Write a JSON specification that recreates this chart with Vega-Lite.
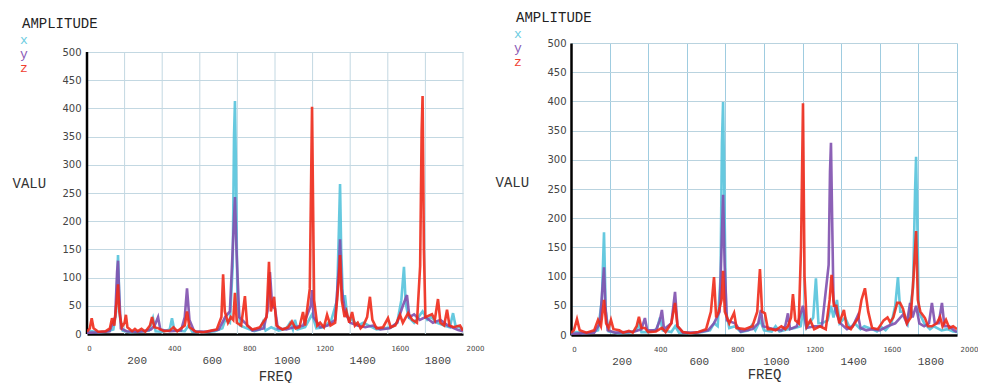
{
"$schema": "https://vega.github.io/schema/vega-lite/v6.json",
"background": "white",
"padding": {"left": 12, "top": 11, "right": 0, "bottom": 0},
"spacing": 11,
"config": {"view": {"stroke": null}, "font": "DejaVu Sans"},
"resolve": {"scale": {"color": "independent"}, "legend": {"color": "independent"}},
"datasets": {
"G": [{"f":0,"v":0,"hi":500},{"f":200,"v":0,"hi":500},{"f":400,"v":0,"hi":500},{"f":600,"v":0,"hi":500},{"f":800,"v":0,"hi":500},{"f":1000,"v":0,"hi":500},{"f":1200,"v":0,"hi":500},{"f":1400,"v":0,"hi":500},{"f":1600,"v":0,"hi":500},{"f":1800,"v":0,"hi":500},{"f":2000,"v":0,"hi":500}],
"A": [
{"s":"x","f":0,"v":3},{"s":"x","f":20,"v":5},{"s":"x","f":60,"v":3},{"s":"x","f":100,"v":4},{"s":"x","f":140,"v":8},{"s":"x","f":155,"v":40},{"s":"x","f":165,"v":140},{"s":"x","f":175,"v":30},{"s":"x","f":190,"v":6},{"s":"x","f":230,"v":3},{"s":"x","f":280,"v":4},{"s":"x","f":330,"v":6},{"s":"x","f":351,"v":28},{"s":"x","f":365,"v":5},{"s":"x","f":400,"v":4},{"s":"x","f":440,"v":8},{"s":"x","f":452,"v":28},{"s":"x","f":465,"v":6},{"s":"x","f":520,"v":5},{"s":"x","f":540,"v":15},{"s":"x","f":560,"v":4},{"s":"x","f":620,"v":3},{"s":"x","f":680,"v":5},{"s":"x","f":720,"v":10},{"s":"x","f":735,"v":25},{"s":"x","f":760,"v":20},{"s":"x","f":775,"v":120},{"s":"x","f":782,"v":350},{"s":"x","f":787,"v":413},{"s":"x","f":792,"v":300},{"s":"x","f":800,"v":60},{"s":"x","f":815,"v":15},{"s":"x","f":850,"v":10},{"s":"x","f":890,"v":5},{"s":"x","f":920,"v":8},{"s":"x","f":936,"v":21},{"s":"x","f":950,"v":6},{"s":"x","f":980,"v":12},{"s":"x","f":1020,"v":6},{"s":"x","f":1060,"v":10},{"s":"x","f":1080,"v":20},{"s":"x","f":1095,"v":8},{"s":"x","f":1106,"v":25},{"s":"x","f":1120,"v":8},{"s":"x","f":1160,"v":12},{"s":"x","f":1197,"v":35},{"s":"x","f":1220,"v":10},{"s":"x","f":1260,"v":12},{"s":"x","f":1300,"v":25},{"s":"x","f":1330,"v":60},{"s":"x","f":1341,"v":200},{"s":"x","f":1346,"v":266},{"s":"x","f":1352,"v":150},{"s":"x","f":1362,"v":55},{"s":"x","f":1372,"v":69},{"s":"x","f":1385,"v":30},{"s":"x","f":1410,"v":25},{"s":"x","f":1440,"v":15},{"s":"x","f":1470,"v":20},{"s":"x","f":1500,"v":15},{"s":"x","f":1540,"v":8},{"s":"x","f":1580,"v":10},{"s":"x","f":1620,"v":12},{"s":"x","f":1650,"v":20},{"s":"x","f":1672,"v":60},{"s":"x","f":1686,"v":119},{"s":"x","f":1695,"v":55},{"s":"x","f":1710,"v":30},{"s":"x","f":1740,"v":20},{"s":"x","f":1785,"v":40},{"s":"x","f":1810,"v":25},{"s":"x","f":1830,"v":30},{"s":"x","f":1860,"v":20},{"s":"x","f":1900,"v":15},{"s":"x","f":1930,"v":12},{"s":"x","f":1947,"v":37},{"s":"x","f":1960,"v":15},{"s":"x","f":1980,"v":12},{"s":"x","f":2000,"v":8},
{"s":"y","f":0,"v":2},{"s":"y","f":60,"v":3},{"s":"y","f":120,"v":5},{"s":"y","f":150,"v":30},{"s":"y","f":160,"v":110},{"s":"y","f":165,"v":130},{"s":"y","f":170,"v":80},{"s":"y","f":180,"v":10},{"s":"y","f":210,"v":5},{"s":"y","f":260,"v":4},{"s":"y","f":300,"v":5},{"s":"y","f":340,"v":8},{"s":"y","f":360,"v":15},{"s":"y","f":378,"v":30},{"s":"y","f":390,"v":8},{"s":"y","f":440,"v":5},{"s":"y","f":500,"v":6},{"s":"y","f":520,"v":30},{"s":"y","f":532,"v":81},{"s":"y","f":545,"v":25},{"s":"y","f":570,"v":5},{"s":"y","f":640,"v":4},{"s":"y","f":700,"v":8},{"s":"y","f":735,"v":30},{"s":"y","f":760,"v":40},{"s":"y","f":775,"v":150},{"s":"y","f":787,"v":243},{"s":"y","f":795,"v":150},{"s":"y","f":810,"v":30},{"s":"y","f":840,"v":20},{"s":"y","f":880,"v":6},{"s":"y","f":940,"v":10},{"s":"y","f":960,"v":40},{"s":"y","f":973,"v":110},{"s":"y","f":985,"v":50},{"s":"y","f":1000,"v":45},{"s":"y","f":1015,"v":10},{"s":"y","f":1060,"v":8},{"s":"y","f":1100,"v":12},{"s":"y","f":1150,"v":15},{"s":"y","f":1190,"v":50},{"s":"y","f":1197,"v":78},{"s":"y","f":1205,"v":30},{"s":"y","f":1240,"v":12},{"s":"y","f":1280,"v":15},{"s":"y","f":1320,"v":25},{"s":"y","f":1340,"v":120},{"s":"y","f":1346,"v":168},{"s":"y","f":1355,"v":80},{"s":"y","f":1372,"v":40},{"s":"y","f":1400,"v":20},{"s":"y","f":1440,"v":15},{"s":"y","f":1480,"v":12},{"s":"y","f":1520,"v":15},{"s":"y","f":1560,"v":8},{"s":"y","f":1610,"v":10},{"s":"y","f":1650,"v":20},{"s":"y","f":1680,"v":50},{"s":"y","f":1702,"v":69},{"s":"y","f":1715,"v":30},{"s":"y","f":1740,"v":35},{"s":"y","f":1770,"v":25},{"s":"y","f":1800,"v":30},{"s":"y","f":1840,"v":20},{"s":"y","f":1880,"v":25},{"s":"y","f":1920,"v":15},{"s":"y","f":1974,"v":7},{"s":"y","f":2000,"v":5},
{"s":"z","f":0,"v":4},{"s":"z","f":15,"v":10},{"s":"z","f":25,"v":28},{"s":"z","f":35,"v":10},{"s":"z","f":60,"v":4},{"s":"z","f":100,"v":5},{"s":"z","f":122,"v":10},{"s":"z","f":133,"v":28},{"s":"z","f":145,"v":15},{"s":"z","f":158,"v":60},{"s":"z","f":165,"v":88},{"s":"z","f":172,"v":40},{"s":"z","f":185,"v":12},{"s":"z","f":200,"v":20},{"s":"z","f":207,"v":34},{"s":"z","f":215,"v":12},{"s":"z","f":240,"v":5},{"s":"z","f":255,"v":9},{"s":"z","f":270,"v":5},{"s":"z","f":290,"v":9},{"s":"z","f":310,"v":4},{"s":"z","f":335,"v":15},{"s":"z","f":346,"v":30},{"s":"z","f":358,"v":12},{"s":"z","f":380,"v":10},{"s":"z","f":410,"v":5},{"s":"z","f":440,"v":6},{"s":"z","f":460,"v":12},{"s":"z","f":480,"v":5},{"s":"z","f":520,"v":15},{"s":"z","f":532,"v":40},{"s":"z","f":545,"v":12},{"s":"z","f":580,"v":4},{"s":"z","f":620,"v":3},{"s":"z","f":660,"v":6},{"s":"z","f":690,"v":8},{"s":"z","f":715,"v":30},{"s":"z","f":724,"v":106},{"s":"z","f":733,"v":40},{"s":"z","f":750,"v":20},{"s":"z","f":765,"v":30},{"s":"z","f":778,"v":25},{"s":"z","f":787,"v":73},{"s":"z","f":797,"v":20},{"s":"z","f":820,"v":15},{"s":"z","f":840,"v":67},{"s":"z","f":852,"v":15},{"s":"z","f":880,"v":8},{"s":"z","f":920,"v":12},{"s":"z","f":955,"v":30},{"s":"z","f":968,"v":128},{"s":"z","f":978,"v":40},{"s":"z","f":995,"v":66},{"s":"z","f":1008,"v":15},{"s":"z","f":1040,"v":8},{"s":"z","f":1070,"v":12},{"s":"z","f":1090,"v":22},{"s":"z","f":1110,"v":10},{"s":"z","f":1130,"v":12},{"s":"z","f":1149,"v":39},{"s":"z","f":1160,"v":15},{"s":"z","f":1185,"v":80},{"s":"z","f":1197,"v":403},{"s":"z","f":1208,"v":60},{"s":"z","f":1225,"v":15},{"s":"z","f":1240,"v":20},{"s":"z","f":1260,"v":12},{"s":"z","f":1277,"v":34},{"s":"z","f":1295,"v":15},{"s":"z","f":1320,"v":20},{"s":"z","f":1340,"v":100},{"s":"z","f":1346,"v":140},{"s":"z","f":1355,"v":60},{"s":"z","f":1370,"v":30},{"s":"z","f":1380,"v":40},{"s":"z","f":1395,"v":20},{"s":"z","f":1410,"v":39},{"s":"z","f":1425,"v":15},{"s":"z","f":1440,"v":20},{"s":"z","f":1455,"v":10},{"s":"z","f":1470,"v":15},{"s":"z","f":1490,"v":30},{"s":"z","f":1505,"v":66},{"s":"z","f":1518,"v":25},{"s":"z","f":1540,"v":10},{"s":"z","f":1575,"v":12},{"s":"z","f":1601,"v":28},{"s":"z","f":1615,"v":12},{"s":"z","f":1640,"v":15},{"s":"z","f":1665,"v":34},{"s":"z","f":1680,"v":20},{"s":"z","f":1708,"v":37},{"s":"z","f":1730,"v":25},{"s":"z","f":1755,"v":20},{"s":"z","f":1772,"v":120},{"s":"z","f":1780,"v":360},{"s":"z","f":1785,"v":422},{"s":"z","f":1792,"v":150},{"s":"z","f":1800,"v":30},{"s":"z","f":1835,"v":35},{"s":"z","f":1850,"v":25},{"s":"z","f":1867,"v":62},{"s":"z","f":1880,"v":20},{"s":"z","f":1900,"v":15},{"s":"z","f":1915,"v":43},{"s":"z","f":1928,"v":15},{"s":"z","f":1950,"v":12},{"s":"z","f":1984,"v":15},{"s":"z","f":2000,"v":6}
],
"B": [
{"s":"x","f":0,"v":3},{"s":"x","f":30,"v":5},{"s":"x","f":60,"v":3},{"s":"x","f":100,"v":4},{"s":"x","f":140,"v":8},{"s":"x","f":160,"v":60},{"s":"x","f":171,"v":176},{"s":"x","f":180,"v":40},{"s":"x","f":195,"v":6},{"s":"x","f":240,"v":3},{"s":"x","f":300,"v":4},{"s":"x","f":340,"v":8},{"s":"x","f":352,"v":20},{"s":"x","f":365,"v":5},{"s":"x","f":400,"v":5},{"s":"x","f":445,"v":10},{"s":"x","f":461,"v":30},{"s":"x","f":475,"v":8},{"s":"x","f":520,"v":5},{"s":"x","f":540,"v":15},{"s":"x","f":560,"v":4},{"s":"x","f":620,"v":3},{"s":"x","f":680,"v":5},{"s":"x","f":720,"v":8},{"s":"x","f":741,"v":20},{"s":"x","f":760,"v":15},{"s":"x","f":775,"v":100},{"s":"x","f":782,"v":330},{"s":"x","f":788,"v":399},{"s":"x","f":794,"v":250},{"s":"x","f":803,"v":40},{"s":"x","f":820,"v":12},{"s":"x","f":850,"v":15},{"s":"x","f":880,"v":5},{"s":"x","f":920,"v":8},{"s":"x","f":938,"v":17},{"s":"x","f":955,"v":8},{"s":"x","f":980,"v":25},{"s":"x","f":1000,"v":8},{"s":"x","f":1040,"v":6},{"s":"x","f":1060,"v":15},{"s":"x","f":1080,"v":6},{"s":"x","f":1124,"v":10},{"s":"x","f":1160,"v":12},{"s":"x","f":1190,"v":15},{"s":"x","f":1202,"v":40},{"s":"x","f":1220,"v":12},{"s":"x","f":1255,"v":30},{"s":"x","f":1269,"v":97},{"s":"x","f":1282,"v":20},{"s":"x","f":1300,"v":20},{"s":"x","f":1330,"v":25},{"s":"x","f":1347,"v":50},{"s":"x","f":1360,"v":30},{"s":"x","f":1378,"v":60},{"s":"x","f":1392,"v":20},{"s":"x","f":1420,"v":30},{"s":"x","f":1445,"v":12},{"s":"x","f":1470,"v":20},{"s":"x","f":1500,"v":10},{"s":"x","f":1520,"v":15},{"s":"x","f":1560,"v":10},{"s":"x","f":1585,"v":6},{"s":"x","f":1606,"v":14},{"s":"x","f":1630,"v":8},{"s":"x","f":1660,"v":20},{"s":"x","f":1680,"v":50},{"s":"x","f":1694,"v":99},{"s":"x","f":1706,"v":40},{"s":"x","f":1720,"v":40},{"s":"x","f":1745,"v":20},{"s":"x","f":1772,"v":80},{"s":"x","f":1783,"v":250},{"s":"x","f":1788,"v":305},{"s":"x","f":1794,"v":200},{"s":"x","f":1802,"v":40},{"s":"x","f":1830,"v":20},{"s":"x","f":1860,"v":10},{"s":"x","f":1880,"v":15},{"s":"x","f":1920,"v":8},{"s":"x","f":1950,"v":10},{"s":"x","f":1980,"v":6},{"s":"x","f":2000,"v":5},
{"s":"y","f":0,"v":2},{"s":"y","f":60,"v":3},{"s":"y","f":120,"v":4},{"s":"y","f":150,"v":20},{"s":"y","f":163,"v":80},{"s":"y","f":171,"v":116},{"s":"y","f":178,"v":50},{"s":"y","f":190,"v":8},{"s":"y","f":230,"v":4},{"s":"y","f":280,"v":5},{"s":"y","f":330,"v":6},{"s":"y","f":365,"v":10},{"s":"y","f":383,"v":29},{"s":"y","f":395,"v":8},{"s":"y","f":440,"v":8},{"s":"y","f":460,"v":25},{"s":"y","f":471,"v":43},{"s":"y","f":482,"v":10},{"s":"y","f":520,"v":20},{"s":"y","f":539,"v":74},{"s":"y","f":552,"v":15},{"s":"y","f":580,"v":4},{"s":"y","f":650,"v":4},{"s":"y","f":710,"v":8},{"s":"y","f":741,"v":20},{"s":"y","f":770,"v":40},{"s":"y","f":780,"v":150},{"s":"y","f":788,"v":240},{"s":"y","f":796,"v":120},{"s":"y","f":808,"v":25},{"s":"y","f":850,"v":20},{"s":"y","f":880,"v":6},{"s":"y","f":940,"v":10},{"s":"y","f":970,"v":20},{"s":"y","f":984,"v":43},{"s":"y","f":995,"v":15},{"s":"y","f":1050,"v":10},{"s":"y","f":1090,"v":8},{"s":"y","f":1110,"v":15},{"s":"y","f":1124,"v":37},{"s":"y","f":1135,"v":10},{"s":"y","f":1170,"v":15},{"s":"y","f":1202,"v":50},{"s":"y","f":1220,"v":12},{"s":"y","f":1260,"v":15},{"s":"y","f":1300,"v":15},{"s":"y","f":1335,"v":120},{"s":"y","f":1342,"v":280},{"s":"y","f":1347,"v":329},{"s":"y","f":1353,"v":200},{"s":"y","f":1360,"v":60},{"s":"y","f":1372,"v":40},{"s":"y","f":1395,"v":20},{"s":"y","f":1430,"v":10},{"s":"y","f":1460,"v":15},{"s":"y","f":1487,"v":34},{"s":"y","f":1500,"v":12},{"s":"y","f":1530,"v":8},{"s":"y","f":1560,"v":10},{"s":"y","f":1600,"v":8},{"s":"y","f":1640,"v":15},{"s":"y","f":1680,"v":20},{"s":"y","f":1720,"v":35},{"s":"y","f":1740,"v":20},{"s":"y","f":1757,"v":55},{"s":"y","f":1770,"v":30},{"s":"y","f":1788,"v":50},{"s":"y","f":1805,"v":20},{"s":"y","f":1830,"v":15},{"s":"y","f":1855,"v":20},{"s":"y","f":1870,"v":55},{"s":"y","f":1885,"v":20},{"s":"y","f":1905,"v":20},{"s":"y","f":1922,"v":55},{"s":"y","f":1935,"v":15},{"s":"y","f":1960,"v":15},{"s":"y","f":1985,"v":8},{"s":"y","f":2000,"v":5},
{"s":"z","f":0,"v":4},{"s":"z","f":15,"v":8},{"s":"z","f":31,"v":27},{"s":"z","f":45,"v":8},{"s":"z","f":80,"v":4},{"s":"z","f":120,"v":8},{"s":"z","f":140,"v":26},{"s":"z","f":155,"v":15},{"s":"z","f":171,"v":60},{"s":"z","f":182,"v":20},{"s":"z","f":195,"v":12},{"s":"z","f":207,"v":26},{"s":"z","f":220,"v":10},{"s":"z","f":250,"v":8},{"s":"z","f":270,"v":4},{"s":"z","f":300,"v":7},{"s":"z","f":320,"v":4},{"s":"z","f":340,"v":15},{"s":"z","f":352,"v":31},{"s":"z","f":365,"v":12},{"s":"z","f":383,"v":12},{"s":"z","f":400,"v":5},{"s":"z","f":440,"v":6},{"s":"z","f":471,"v":12},{"s":"z","f":490,"v":5},{"s":"z","f":520,"v":20},{"s":"z","f":539,"v":55},{"s":"z","f":552,"v":15},{"s":"z","f":580,"v":5},{"s":"z","f":620,"v":3},{"s":"z","f":660,"v":5},{"s":"z","f":700,"v":10},{"s":"z","f":725,"v":40},{"s":"z","f":741,"v":99},{"s":"z","f":752,"v":30},{"s":"z","f":765,"v":40},{"s":"z","f":780,"v":60},{"s":"z","f":788,"v":110},{"s":"z","f":797,"v":40},{"s":"z","f":820,"v":20},{"s":"z","f":845,"v":38},{"s":"z","f":858,"v":12},{"s":"z","f":900,"v":10},{"s":"z","f":940,"v":15},{"s":"z","f":965,"v":40},{"s":"z","f":979,"v":113},{"s":"z","f":990,"v":40},{"s":"z","f":1005,"v":37},{"s":"z","f":1020,"v":10},{"s":"z","f":1040,"v":10},{"s":"z","f":1060,"v":8},{"s":"z","f":1090,"v":15},{"s":"z","f":1110,"v":10},{"s":"z","f":1124,"v":15},{"s":"z","f":1140,"v":30},{"s":"z","f":1150,"v":70},{"s":"z","f":1162,"v":25},{"s":"z","f":1180,"v":20},{"s":"z","f":1192,"v":150},{"s":"z","f":1202,"v":397},{"s":"z","f":1210,"v":100},{"s":"z","f":1222,"v":15},{"s":"z","f":1240,"v":25},{"s":"z","f":1260,"v":10},{"s":"z","f":1290,"v":15},{"s":"z","f":1320,"v":10},{"s":"z","f":1340,"v":60},{"s":"z","f":1350,"v":103},{"s":"z","f":1362,"v":50},{"s":"z","f":1375,"v":50},{"s":"z","f":1390,"v":20},{"s":"z","f":1414,"v":43},{"s":"z","f":1428,"v":15},{"s":"z","f":1450,"v":10},{"s":"z","f":1470,"v":20},{"s":"z","f":1490,"v":30},{"s":"z","f":1505,"v":60},{"s":"z","f":1523,"v":80},{"s":"z","f":1540,"v":40},{"s":"z","f":1560,"v":12},{"s":"z","f":1590,"v":10},{"s":"z","f":1620,"v":25},{"s":"z","f":1640,"v":30},{"s":"z","f":1653,"v":22},{"s":"z","f":1670,"v":30},{"s":"z","f":1690,"v":55},{"s":"z","f":1705,"v":55},{"s":"z","f":1720,"v":45},{"s":"z","f":1740,"v":20},{"s":"z","f":1760,"v":30},{"s":"z","f":1775,"v":100},{"s":"z","f":1788,"v":178},{"s":"z","f":1797,"v":60},{"s":"z","f":1810,"v":40},{"s":"z","f":1834,"v":29},{"s":"z","f":1850,"v":15},{"s":"z","f":1870,"v":15},{"s":"z","f":1895,"v":20},{"s":"z","f":1912,"v":31},{"s":"z","f":1925,"v":15},{"s":"z","f":1943,"v":26},{"s":"z","f":1960,"v":12},{"s":"z","f":1980,"v":15},{"s":"z","f":2000,"v":10}
]
},
"hconcat": [
{
"width": 376, "height": 291,
"encoding": {
"x": {"field": "f", "type": "quantitative", "scale": {"domain": [0, 2000], "nice": false, "zero": false},
 "axis": {"title": "FREQ", "format": "d", "values": [0,200,400,600,800,1000,1200,1400,1600,1800,2000], "grid": false, "ticks": false, "tickSize": 0, "domainColor": "#000000", "domainWidth": 2.5, "labelFlush": false, "labelOverlap": false, "labelColor": "#444444",
  "labelFont": {"condition": {"test": "datum.value % 400 == 200", "value": "Liberation Mono"}, "value": "DejaVu Sans"},
  "labelFontSize": {"condition": {"test": "datum.value % 400 == 200", "value": 11}, "value": 7},
  "labelPadding": {"condition": {"test": "datum.value % 400 == 200", "value": 20}, "value": 10},
  "labelOffset": {"condition": {"test": "datum.value == 0", "value": 2}, "value": 12},
  "titleFont": "Liberation Mono", "titleFontSize": 14, "titleFontWeight": "normal", "titleColor": "#333333", "titlePadding": 4}},
"y": {"field": "v", "type": "quantitative", "scale": {"domain": [0, 516], "nice": false, "zero": true},
 "axis": {"title": "VALU", "values": [0,50,100,150,200,250,300,350,400,450,500], "grid": true, "gridColor": "#c3d8e2", "gridWidth": 1, "ticks": false, "tickSize": 0, "domain": false, "labelFont": "DejaVu Sans", "labelFontSize": 10, "labelColor": "#444444", "labelPadding": 6,
  "titleAngle": 0, "titleAlign": "left", "titleBaseline": "middle", "titleX": -75, "titleY": 140, "titleFont": "Liberation Mono", "titleFontSize": 14, "titleFontWeight": "normal", "titleColor": "#333333"}}
},
"layer": [
{"data": {"name": "G"}, "mark": {"type": "rule", "color": "#c3d8e2", "strokeWidth": 1}, "encoding": {"y2": {"field": "hi"}}},
{"data": {"values": [{"f":0,"v":0,"hi":500}]}, "mark": {"type": "rule", "color": "#000000", "strokeWidth": 2.5}, "encoding": {"y2": {"field": "hi"}}},
{"data": {"name": "A"},
 "mark": {"type": "line", "strokeWidth": 2.6, "opacity": 0.9, "clip": true},
 "encoding": {
"color": {"field": "s", "type": "nominal", "scale": {"domain": ["x","y","z"], "range": ["#55c3dc","#8050ae","#f02a1a"]},
 "legend": {"title": "AMPLITUDE", "orient": "none", "legendX": -65, "legendY": -26, "padding": 0, "direction": "vertical", "titleFont": "Liberation Mono", "titleFontSize": 14, "titleFontWeight": "normal", "titleColor": "#222222", "titlePadding": 2, "labelFont": "Liberation Mono", "labelFontSize": 13, "labelOffset": -15, "rowPadding": 0, "symbolType": "circle", "symbolSize": 0, "symbolOpacity": 0, "symbolStrokeWidth": 0,
  "encoding": {"labels": {"fill": {"condition": [{"test": "datum.label == 'x'", "value": "#6cccdf"}, {"test": "datum.label == 'y'", "value": "#8a5ab6"}], "value": "#f04030"}}}}}
 }}
]
},
{
"width": 386, "height": 292,
"data": {"name": "B"},
"mark": {"type": "line", "strokeWidth": 2.6, "opacity": 0.9, "clip": true},
"encoding": {
"x": {"field": "f", "type": "quantitative", "scale": {"domain": [0, 2000], "nice": false, "zero": false},
 "axis": {"title": "FREQ", "format": "d", "values": [0,200,400,600,800,1000,1200,1400,1600,1800,2000], "grid": true, "gridColor": "#9fcce0", "gridWidth": 1, "ticks": false, "tickSize": 0, "domainColor": "#000000", "domainWidth": 2.5, "labelFlush": false, "labelOverlap": false, "labelColor": "#444444",
  "labelFont": {"condition": {"test": "datum.value % 400 == 200", "value": "Liberation Mono"}, "value": "DejaVu Sans"},
  "labelFontSize": {"condition": {"test": "datum.value % 400 == 200", "value": 11}, "value": 7},
  "labelPadding": {"condition": {"test": "datum.value % 400 == 200", "value": 20}, "value": 10},
  "labelOffset": {"condition": {"test": "datum.value == 0", "value": 3}, "value": 12},
  "titleFont": "Liberation Mono", "titleFontSize": 14, "titleFontWeight": "normal", "titleColor": "#333333", "titlePadding": 1}},
"y": {"field": "v", "type": "quantitative", "scale": {"domain": [0, 500], "nice": false},
 "axis": {"title": "VALU", "values": [0,50,100,150,200,250,300,350,400,450,500], "grid": true, "gridColor": "#b9d3df", "gridWidth": 1, "ticks": false, "tickSize": 0, "domainColor": "#000000", "domainWidth": 2.5, "labelFont": "DejaVu Sans", "labelFontSize": 10, "labelColor": "#444444", "labelPadding": 5,
  "titleAngle": 0, "titleAlign": "left", "titleBaseline": "middle", "titleX": -76, "titleY": 139, "titleFont": "Liberation Mono", "titleFontSize": 14, "titleFontWeight": "normal", "titleColor": "#333333"}},
"color": {"field": "s", "type": "nominal", "scale": {"domain": ["x","y","z"], "range": ["#55c3dc","#8050ae","#f02a1a"]},
 "legend": {"title": "AMPLITUDE", "orient": "none", "legendX": -55, "legendY": -32, "padding": 0, "direction": "vertical", "titleFont": "Liberation Mono", "titleFontSize": 14, "titleFontWeight": "normal", "titleColor": "#222222", "titlePadding": 2, "labelFont": "Liberation Mono", "labelFontSize": 13, "labelOffset": -15, "rowPadding": 0, "symbolType": "circle", "symbolSize": 0, "symbolOpacity": 0, "symbolStrokeWidth": 0,
  "encoding": {"labels": {"fill": {"condition": [{"test": "datum.label == 'x'", "value": "#6cccdf"}, {"test": "datum.label == 'y'", "value": "#8a5ab6"}], "value": "#f04030"}}}}}
}
}
]
}
